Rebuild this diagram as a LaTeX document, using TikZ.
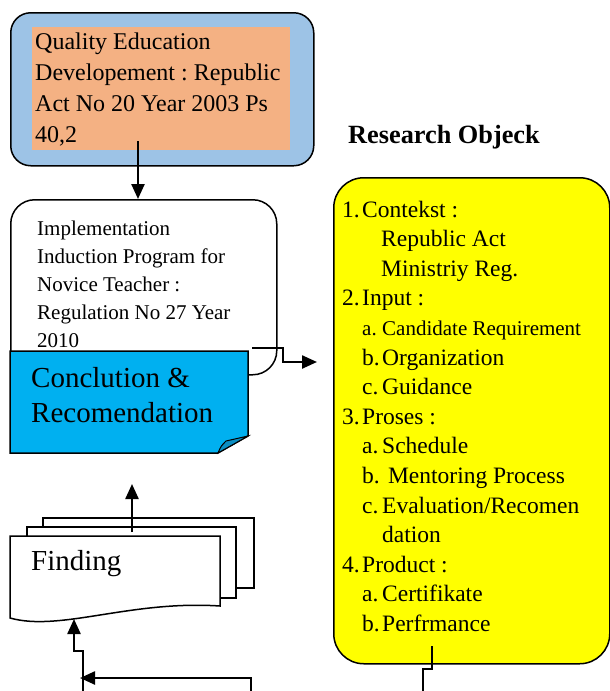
\documentclass[tikz,border=0pt]{standalone}
\usepackage{fontspec}
\setmainfont{Liberation Serif}
\usetikzlibrary{arrows.meta}

\definecolor{frameblue}{HTML}{9DC3E6}
\definecolor{lawpeach}{HTML}{F4B183}
\definecolor{notecyan}{HTML}{00B0F0}
\definecolor{foldcyan}{HTML}{0B8EC2}
\definecolor{objyellow}{HTML}{FFFF00}

\newcommand{\numitem}[2]{\makebox[20pt][l]{#1}#2}
\newcommand{\letitem}[2]{\hspace*{20pt}\makebox[20pt][l]{#1}#2}
\frenchspacing

\begin{document}
\begin{tikzpicture}[x = 1pt, y = -1pt,
                    frame/.style = {draw, line width = 1.5pt, rounded corners = #1, anchor = north west, inner sep = 0pt},
                    txt/.style = {anchor = base west, inner sep = 0pt, align = flush left, text width = #1},
                    link/.style = {line width = 2.4pt},
                    arr/.style = {link, -{Triangle[length = 15pt, width = 13pt]}}]
                    \useasboundingbox (0, 0) rectangle (610, 691);

                    \node[frame = 20, fill = frameblue, minimum width = 303, minimum height = 153] (quality) at (10, 12) {};
                    \node[fill = lawpeach, minimum width = 258, minimum height = 123, anchor = north west, inner sep = 0pt] (law) at (32, 27) {};
                    \node[txt = 258, font = \fontsize{24}{31}\selectfont] (lawtext) at (35, 49)
                        {Quality Education\\Developement : Republic\\Act No 20 Year 2003 Ps\\40,2};

                    \node[frame = 24, fill = white, minimum width = 266, minimum height = 175] (induction) at (10, 199) {};
                    \node[txt = 236, font = \fontsize{21}{28}\selectfont] (inductiontext) at (37, 235)
                        {Implementation\\Induction Program for\\Novice Teacher :\\Regulation No 27 Year\\2010};

                    \draw[line width = 1.5pt, fill = notecyan] (10, 351) -- (248, 351) -- (248, 436) -- (218, 453) -- (10, 453) -- cycle;
                    \draw[line width = 1pt, fill = foldcyan] (218, 453) .. controls (221, 446) .. (226, 441) -- (248, 436) -- cycle;
                    \node[txt = 215, font = \fontsize{29}{35}\selectfont] (conclution) at (31, 387)
                        {Conclution \&\\Recomendation};

                    \foreach \l/\t/\r/\b in {43/518/254/588, 27/527/236/598}
                        \draw[line width = 1.5pt, fill = white] (\l, \t) rectangle (\r, \b);
                    \draw[line width = 1.5pt, fill = white] (10, 536) -- (220, 536) -- (220, 606)
                        .. controls (130, 600) and (60, 632) .. (10, 618) -- cycle;
                    \node[txt = 180, font = \fontsize{29}{35}\selectfont] (finding) at (31, 570) {Finding};

                    \node[anchor = base west, inner sep = 0pt, font = \bfseries\fontsize{26.3}{30}\selectfont] (title) at (348, 143) {Research Objeck};

                    \node[frame = 30, fill = objyellow, minimum width = 276, minimum height = 486] (objeck) at (333, 177) {};
                    \node[txt = 268, font = \fontsize{23.5}{29.6}\selectfont] (objecklist) at (342, 217)
                        {\numitem{1.}{Contekst :}\\
                         \hspace*{39pt}Republic Act\\
                         \hspace*{39pt}Ministriy Reg.\\
                         \numitem{2.}{Input :}\\
                         {\fontsize{21}{29.6}\selectfont\letitem{a.}{Candidate Requirement}}\\
                         \letitem{b.}{Organization}\\
                         \letitem{c.}{Guidance}\\
                         \numitem{3.}{Proses :}\\
                         \letitem{a.}{Schedule}\\
                         \letitem{b.}{\ Mentoring Process}\\
                         \letitem{c.}{Evaluation/Recomen}\\
                         \hspace*{40pt}dation\\
                         \numitem{4.}{Product :}\\
                         \letitem{a.}{Certifikate}\\
                         \letitem{b.}{Perfrmance}};

                    \coordinate (lawout) at (138, 141);
                    \draw[arr] (lawout) -- (lawout |- induction.north);

                    \coordinate (indout) at (252, 348);
                    \coordinate (objin) at (317, 362);
                    \draw[arr] (indout) -- ++(31, 0) |- (objin);

                    \coordinate (findout) at (132, 532);
                    \coordinate (findtip) at (132, 484);
                    \draw[arr] (findout) -- (findtip);

                    \coordinate (objout) at (432, 646);
                    \coordinate (objend) at (423, 691);
                    \draw[link] (objout) -- ++(0, 23) -| (objend);

                    \coordinate (backin) at (251, 691);
                    \coordinate (backtip) at (80, 678);
                    \draw[arr] (backin) |- (backtip);

                    \coordinate (loopin) at (83, 691);
                    \coordinate (findin) at (74, 619);
                    \draw[arr] (loopin) -- ++(0, -40) -| (findin);
                \end{tikzpicture}
\end{document}
